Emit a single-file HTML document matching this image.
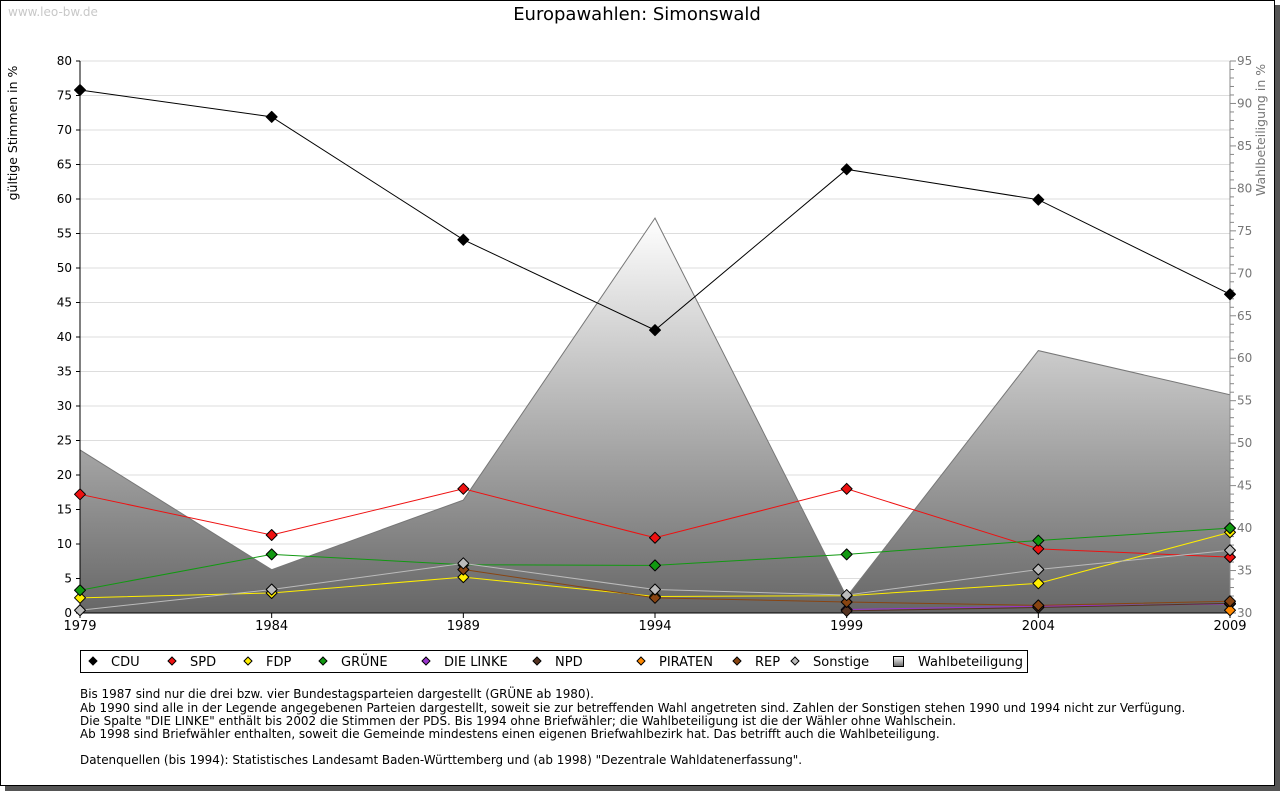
<!DOCTYPE html>
<html><head><meta charset="utf-8"><style>
body{margin:0;width:1280px;height:791px;background:#fff;font-family:"DejaVu Sans","Liberation Sans",sans-serif;overflow:hidden}
#frame{position:absolute;left:0;top:0;width:1273px;height:784px;border:1px solid #000;box-shadow:5px 5px 0 #555;background:#fff}
svg text{font-family:"DejaVu Sans","Liberation Sans",sans-serif}
</style></head><body>
<div id="frame"></div>
<svg id="c" width="1280" height="791" style="position:absolute;left:0;top:0">
<defs><linearGradient id="g" x1="0" y1="0" x2="0" y2="1"><stop offset="0" stop-color="#ffffff"/><stop offset="1" stop-color="#666666"/></linearGradient></defs>
<text x="8" y="16" font-size="12" fill="#c8c8c8">www.leo-bw.de</text>
<text x="637" y="20" font-size="18" text-anchor="middle">Europawahlen: Simonswald</text>
<text transform="translate(17,133) rotate(-90)" font-size="12.5" text-anchor="middle">gültige Stimmen in %</text>
<text transform="translate(1265,130) rotate(-90)" font-size="12.5" fill="#777" text-anchor="middle">Wahlbeteiligung in %</text>
<g id="plot"></g>
<g font-size="11.95">
<text x="80" y="698">Bis 1987 sind nur die drei bzw. vier Bundestagsparteien dargestellt (GRÜNE ab 1980).</text>
<text x="80" y="712">Ab 1990 sind alle in der Legende angegebenen Parteien dargestellt, soweit sie zur betreffenden Wahl angetreten sind. Zahlen der Sonstigen stehen 1990 und 1994 nicht zur Verfügung.</text>
<text x="80" y="725">Die Spalte "DIE LINKE" enthält bis 2002 die Stimmen der PDS. Bis 1994 ohne Briefwähler; die Wahlbeteiligung ist die der Wähler ohne Wahlschein.</text>
<text x="80" y="738">Ab 1998 sind Briefwähler enthalten, soweit die Gemeinde mindestens einen eigenen Briefwahlbezirk hat. Das betrifft auch die Wahlbeteiligung.</text>
<text x="80" y="764">Datenquellen (bis 1994): Statistisches Landesamt Baden-Württemberg und (ab 1998) "Dezentrale Wahldatenerfassung".</text>
</g>
</svg>
<script>
const years=[1979,1984,1989,1994,1999,2004,2009];
const leftTicks=[0,5,10,15,20,25,30,35,40,45,50,55,60,65,70,75,80];
const rightTicks=[30,35,40,45,50,55,60,65,70,75,80,85,90,95];
const turnout=[49.2,35.1,43.3,76.5,31.9,60.9,55.7];
const cdu=[75.8,71.9,54.1,41.0,64.3,59.9,46.2];
const spd=[17.2,11.3,18.0,10.9,18.0,9.3,8.1];
const fdp=[2.2,2.9,5.2,2.4,2.5,4.3,11.7];
const gruene=[3.3,8.5,7.0,6.9,8.5,10.5,12.3];
const linke=[null,null,null,null,0.5,1.0,1.3];
const npd=[null,null,null,null,0.3,0.8,1.4];
const piraten=[null,null,null,null,null,null,0.4];
const rep=[null,null,6.3,2.2,1.6,1.1,1.7];
const sonst=[0.4,3.4,7.2,3.4,2.6,6.3,9.1];
const series=[["CDU",cdu,"#000000"],["SPD",spd,"#ee1111"],["FDP",fdp,"#ffee00"],["GRÜNE",gruene,"#119911"],["DIE LINKE",linke,"#9933cc"],["NPD",npd,"#553322"],["PIRATEN",piraten,"#ff8800"],["REP",rep,"#884411"],["Sonstige",sonst,"#bbbbbb"]];
const X0=80,X1=1230,Y0=613,Y1=61;
const x=y=>X0+(y-1979)/(2009-1979)*(X1-X0);
const yl=v=>Y0-v/80*(Y0-Y1);
const yr=v=>Y0-(v-30)/65*(Y0-Y1);
const NS="http://www.w3.org/2000/svg";
const P=document.getElementById('plot');
function mk(t,a,p){const e=document.createElementNS(NS,t);for(const k in a)e.setAttribute(k,a[k]);(p||P).appendChild(e);return e;}
leftTicks.forEach(v=>{
 if(v>0){const l=mk('line',{x1:X0,x2:X1,y1:yl(v),y2:yl(v),stroke:'#dddddd'});
 
 }
 mk('line',{x1:X0-4,x2:X0,y1:yl(v),y2:yl(v),stroke:'#000'});
 const t=mk('text',{x:X0-8,y:yl(v)+4,'font-size':12,'text-anchor':'end'});t.textContent=v;
 
 
});
let d='M'+x(years[0])+','+Y0;years.forEach((y,i)=>d+=' L'+x(y)+','+yr(turnout[i]));d+=' L'+x(years[6])+','+Y0+'Z';
const ar=mk('path',{d:d,fill:'url(#g)',stroke:'#777','stroke-width':1});


for(let v=30;v<=95;v++){mk('line',{x1:X1,x2:X1+(v%5?4:6),y1:yr(v),y2:yr(v),stroke:'#888'});}
rightTicks.forEach(v=>{const t=mk('text',{x:X1+7,y:yr(v)+4,'font-size':12,fill:'#777'});t.textContent=v;
 
 });
mk('line',{x1:X1,x2:X1,y1:Y1,y2:Y0,stroke:'#888'});
mk('line',{x1:X0,x2:X0,y1:Y1,y2:Y0,stroke:'#000'});
mk('line',{x1:X0,x2:X1,y1:Y0,y2:Y0,stroke:'#000'});
years.forEach(y=>{mk('line',{x1:x(y),x2:x(y),y1:Y0,y2:Y0+5,stroke:'#000'});
 const t=mk('text',{x:x(y),y:Y0+17,'font-size':13,'text-anchor':'middle'});t.textContent=y;
 
 });
function dia(cx,cy,c){return mk('path',{d:`M${cx},${cy-5.5} L${cx+5.5},${cy} L${cx},${cy+5.5} L${cx-5.5},${cy}Z`,fill:c,stroke:'#000','stroke-width':1,'stroke-linejoin':'round'});}
series.forEach(([n,vals,c])=>{
 let pts=[];vals.forEach((v,i)=>{if(v!=null)pts.push([x(years[i]),yl(v)]);});
 if(pts.length>1){const l=mk('polyline',{points:pts.map(p=>p.join(',')).join(' '),fill:'none',stroke:c,'stroke-width':1});
 
 }
 pts.forEach(p=>{const m=dia(p[0],p[1],c);
 
 });
});
const lg=mk('g',{});


mk('rect',{x:80.5,y:650.5,width:947,height:22,fill:'#fff',stroke:'#000'},lg);
const lx=[93,172,248,323,426,537,641,737,795];
series.forEach(([n,vals,c],i)=>{
 mk('path',{d:`M${lx[i]},${657} L${lx[i]+4},${661} L${lx[i]},${665} L${lx[i]-4},${661}Z`,fill:c,stroke:'#000'},lg);
 const t=mk('text',{x:lx[i]+18,y:666,'font-size':13},lg);t.textContent=n;
 
 
});
mk('rect',{x:893.5,y:656.5,width:10,height:10,fill:'url(#g)',stroke:'#000'},lg);
const tw=mk('text',{x:918,y:666,'font-size':13},lg);tw.textContent='Wahlbeteiligung';


</script>
</body></html>
